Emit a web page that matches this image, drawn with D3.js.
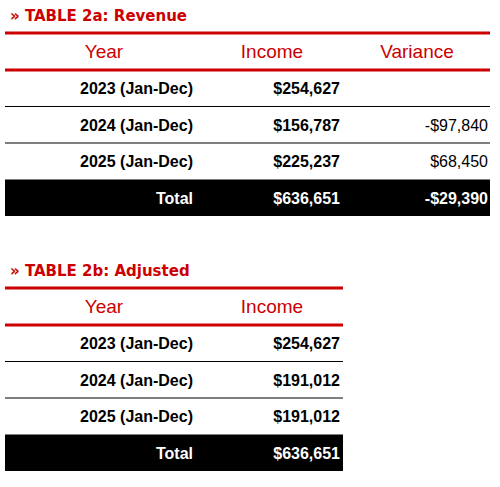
<!DOCTYPE html><html><head><meta charset="utf-8"><script src="https://cdn.jsdelivr.net/npm/d3@7"></script>
<style>body{margin:0;background:#fff}</style></head><body><svg id="c" width="500" height="487"></svg>
<script>
const titles=["» TABLE 2a: Revenue","» TABLE 2b: Adjusted"];
const years=["2023 (Jan-Dec)","2024 (Jan-Dec)","2025 (Jan-Dec)"];
const income2a=["$254,627","$156,787","$225,237"];
const variance2a=["","-$97,840","$68,450"];
const total2a=["Total","$636,651","-$29,390"];
const income2b=["$254,627","$191,012","$191,012"];
const total2b=["Total","$636,651"];
const red="#cc0000";
const svg=d3.select("#c");
function table(y0,title,headers,cols,total,width,colRight,colCenter){
  const g=svg.append("g").attr("transform",`translate(0,${y0})`);
  g.append("text").attr("x",10).attr("y",21).text(title).attr("fill",red)
   .attr("font-family","DejaVu Sans").attr("font-weight","bold").attr("font-size",15);
  const x0=5;
  g.append("line").attr("x1",x0).attr("x2",x0+width).attr("y1",33).attr("y2",33).attr("stroke",red).attr("stroke-width",3);
  headers.forEach((h,i)=>g.append("text").attr("x",colCenter[i]).attr("y",58).attr("text-anchor","middle")
    .attr("fill",red).attr("font-family","Liberation Sans, Arial").attr("font-size",19).text(h));
  g.append("line").attr("x1",x0).attr("x2",x0+width).attr("y1",70).attr("y2",70).attr("stroke",red).attr("stroke-width",3);
  const y=d3.scaleBand().domain(d3.range(4)).range([70,216]);
  d3.range(3).forEach(r=>{
    cols.forEach((c,i)=>g.append("text").attr("x",colRight[i]).attr("y",y(r)+y.bandwidth()/2+6)
      .attr("text-anchor","end").attr("font-family","Liberation Sans, Arial").attr("font-size",16)
      .attr("font-weight",i<2?"bold":"normal").text(c[r]));
    if(r<2) g.append("line").attr("x1",x0).attr("x2",x0+width).attr("y1",y(r+1)).attr("y2",y(r+1)).attr("stroke","#000").attr("stroke-width",1.2);
  });
  g.append("rect").attr("x",x0).attr("y",y(3)).attr("width",width).attr("height",y.bandwidth()).attr("fill","#000");
  total.forEach((t,i)=>g.append("text").attr("x",colRight[i]).attr("y",y(3)+y.bandwidth()/2+6)
    .attr("text-anchor","end").attr("fill","#fff").attr("font-family","Liberation Sans, Arial")
    .attr("font-size",16).attr("font-weight","bold").text(t));
}
table(0,titles[0],["Year","Income","Variance"],[years,income2a,variance2a],total2a,485,[193,340,488],[104,272,417]);
table(255,titles[1],["Year","Income"],[years,income2b],total2b,338,[193,340],[104,272]);
</script></body></html>
